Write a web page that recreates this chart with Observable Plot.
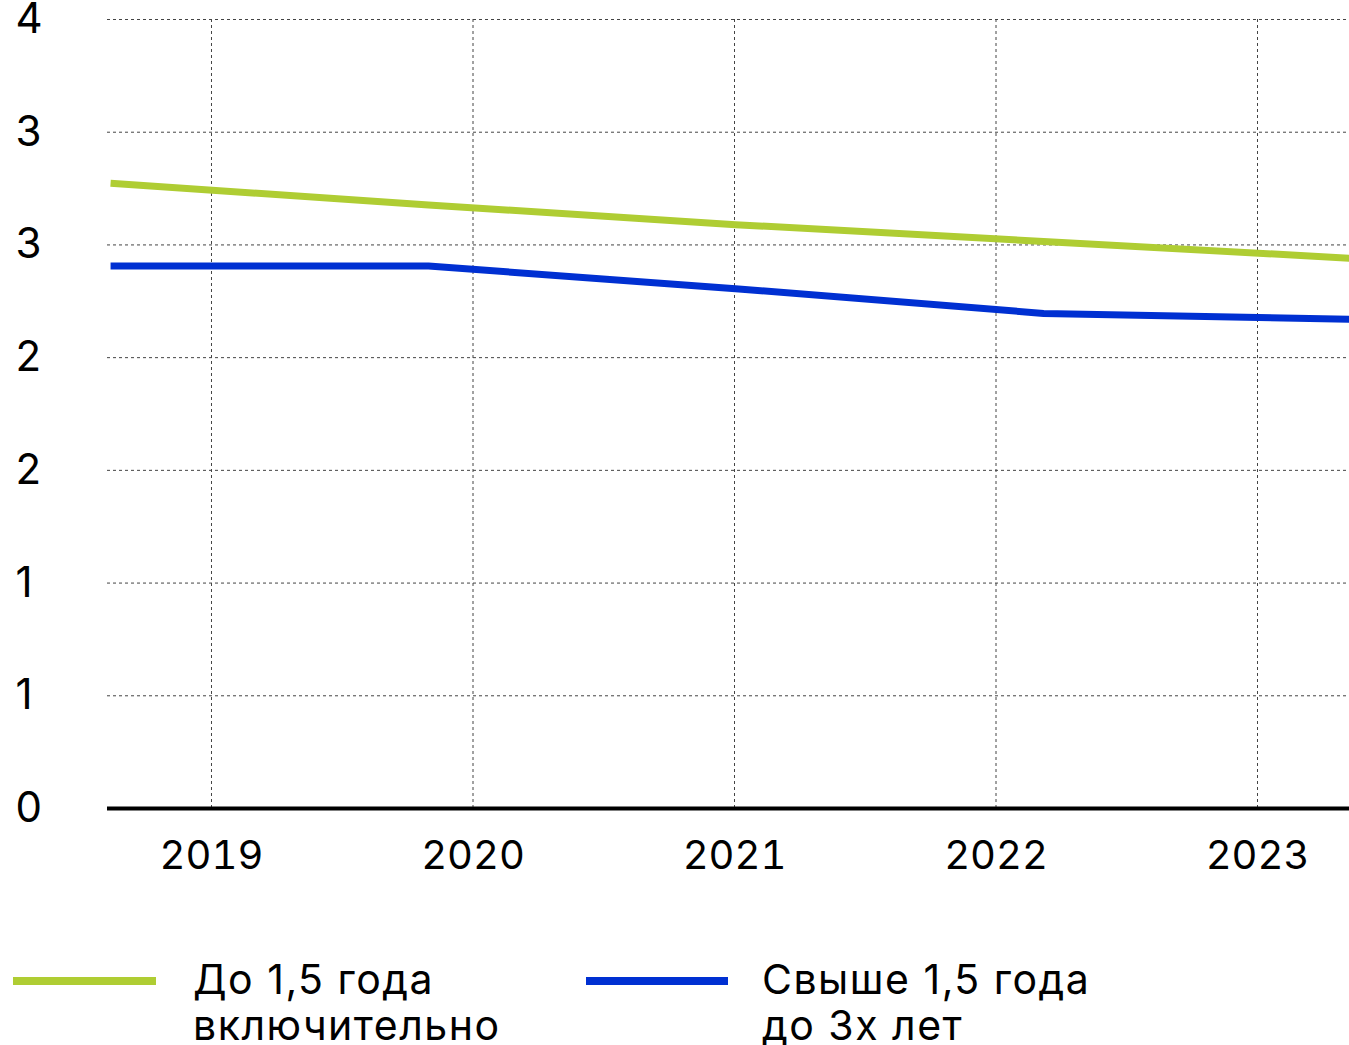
<!DOCTYPE html>
<html>
<head>
<meta charset="utf-8">
<script src="https://cdn.jsdelivr.net/npm/d3@7"></script>
<script src="https://cdn.jsdelivr.net/npm/@observablehq/plot@0.6"></script>
<style>
  html, body { margin: 0; padding: 0; background: #fff; }
  body { width: 1349px; height: 1045px; overflow: hidden; font-family: Inter, "Noto Sans", sans-serif; color: #000; }
  #legend { position: relative; width: 1349px; height: 145px; }
  .sw { position: absolute; height: 8px; }
  .lt { position: absolute; font-size: 41px; line-height: 46px; white-space: nowrap; letter-spacing: 1.5px; }
</style>
</head>
<body>
<div id="chart"></div>
<div id="legend"></div>
<script>
// ---- data ----
const seriesNames = ["До 1,5 года включительно", "Свыше 1,5 года до 3х лет"];
const seriesLines = [["До 1,5 года", "включительно"], ["Свыше 1,5 года", "до 3х лет"]];
const seriesColors = ["#afcd33", "#0030d2"];
// observation times (decimal years)
const periods = [2018.614, 2019.83, 2021.004, 2022.182, 2023.352];
const shortTerm = [3.17, 3.06, 2.96, 2.875, 2.79];
const longTerm  = [2.75, 2.75, 2.635, 2.51, 2.48];
const yearTicks = [2019, 2020, 2021, 2022, 2023];
const yTicks = [0, 4/7, 8/7, 12/7, 16/7, 20/7, 24/7, 4];
const yTickLabels = ["0", "1", "1", "2", "2", "3", "3", "4"];

const rows = [];
periods.forEach((p, i) => {
  rows.push({t: p, v: shortTerm[i], s: seriesNames[0]});
  rows.push({t: p, v: longTerm[i], s: seriesNames[1]});
});

const font = "Inter, 'Noto Sans', sans-serif";
const chart = Plot.plot({
  width: 1349,
  height: 900,
  marginTop: 19,
  marginBottom: 92,
  marginLeft: 107,
  marginRight: 0,
  style: {fontFamily: font, fontSize: "42px", color: "#000", background: "#fff", overflow: "visible"},
  x: {domain: [2018.6023, 2023.3518], axis: null},
  y: {domain: [0, 4], axis: null},
  color: {domain: seriesNames, range: seriesColors},
  marks: [
    Plot.gridY(yTicks, {stroke: "#444", strokeOpacity: 1, strokeWidth: 1, strokeDasharray: "3,3"}),
    Plot.gridX(yearTicks, {stroke: "#444", strokeOpacity: 1, strokeWidth: 1, strokeDasharray: "3,3"}),
    Plot.ruleY([0], {stroke: "#000", strokeWidth: 4}),
    Plot.axisX(yearTicks, {tickSize: 0, tickPadding: 32, tickFormat: d => String(d), fontSize: 40, label: null, style: {letterSpacing: "-1.5px"}}),
    Plot.text(yTicks, {y: d => d, text: (d, i) => yTickLabels[i], frameAnchor: "left", textAnchor: "start", dx: -92, fontSize: 42}),
    Plot.line(rows, {x: "t", y: "v", z: "s", stroke: "s", strokeWidth: 7, strokeLinecap: "butt", strokeLinejoin: "round"})
  ]
});
document.getElementById("chart").appendChild(chart);

// ---- legend ----
const legend = document.getElementById("legend");
const swLeft = [13, 586];
const swWidth = [143, 142];
const txtLeft = [193, 762];
seriesNames.forEach((n, i) => {
  const sw = document.createElement("div");
  sw.className = "sw";
  sw.style.left = swLeft[i] + "px";
  sw.style.width = swWidth[i] + "px";
  sw.style.top = "77px";
  sw.style.background = seriesColors[i];
  legend.appendChild(sw);
  const t = document.createElement("div");
  t.className = "lt";
  t.style.left = txtLeft[i] + "px";
  t.style.top = "56px";
  t.innerHTML = seriesLines[i].join("<br>");
  legend.appendChild(t);
});
</script>
</body>
</html>
